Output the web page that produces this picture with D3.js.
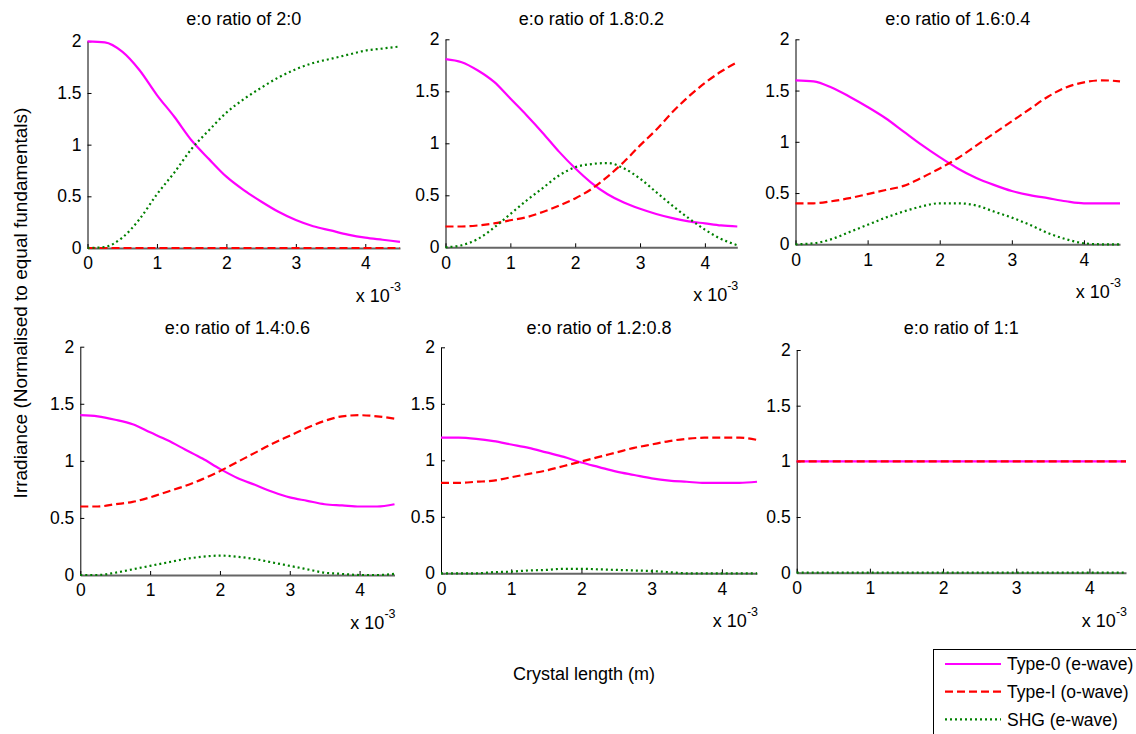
<!DOCTYPE html>
<html>
<head>
<meta charset="utf-8">
<script src="https://cdn.jsdelivr.net/npm/d3@7"></script>
<style>
  body { margin: 0; background: #fff; }
  text { font-family: "Liberation Sans", Arial, Helvetica, sans-serif; fill: #000; }
</style>
</head>
<body>
<script>
// crystal length samples (x 10^-3 m)
let lengths = [0, 0.25, 0.5, 0.75, 1, 1.25, 1.5, 1.75, 2, 2.25, 2.5, 2.75, 3, 3.25, 3.5, 3.75, 4, 4.25, 4.5]

let ratios = ['2:0', '1.8:0.2', '1.6:0.4', '1.4:0.6', '1.2:0.8', '1:1']

// Type-0 (e-wave), one row per panel
let type0 = [
    [2.00, 1.99, 1.90, 1.72, 1.48, 1.27, 1.04, 0.86, 0.69, 0.56, 0.45, 0.35, 0.27, 0.21, 0.17, 0.13, 0.10, 0.08, 0.06],
    [1.81, 1.78, 1.70, 1.59, 1.43, 1.27, 1.10, 0.92, 0.76, 0.62, 0.51, 0.43, 0.37, 0.32, 0.28, 0.25, 0.23, 0.21, 0.20],
    [1.60, 1.59, 1.53, 1.44, 1.34, 1.23, 1.10, 0.97, 0.85, 0.74, 0.65, 0.58, 0.52, 0.48, 0.45, 0.42, 0.40, 0.40, 0.40],
    [1.40, 1.39, 1.36, 1.32, 1.25, 1.18, 1.10, 1.02, 0.93, 0.85, 0.79, 0.73, 0.68, 0.65, 0.62, 0.61, 0.60, 0.60, 0.62],
    [1.20, 1.20, 1.19, 1.17, 1.14, 1.11, 1.07, 1.03, 0.98, 0.94, 0.90, 0.87, 0.84, 0.82, 0.81, 0.80, 0.80, 0.80, 0.81],
    [1, 1, 1, 1, 1, 1, 1, 1, 1, 1, 1, 1, 1, 1, 1, 1, 1, 1, 1]
]

// Type-I (o-wave)
let type1 = [
    [0, 0, 0, 0, 0, 0, 0, 0, 0, 0, 0, 0, 0, 0, 0, 0, 0, 0, 0],
    [0.20, 0.20, 0.21, 0.23, 0.26, 0.29, 0.34, 0.40, 0.47, 0.56, 0.68, 0.82, 0.98, 1.13, 1.30, 1.45, 1.58, 1.69, 1.78],
    [0.40, 0.40, 0.42, 0.45, 0.49, 0.53, 0.57, 0.65, 0.74, 0.84, 0.96, 1.08, 1.20, 1.32, 1.44, 1.53, 1.58, 1.60, 1.59],
    [0.60, 0.60, 0.62, 0.64, 0.68, 0.73, 0.78, 0.84, 0.91, 0.99, 1.07, 1.15, 1.22, 1.29, 1.35, 1.39, 1.40, 1.39, 1.37],
    [0.80, 0.80, 0.81, 0.82, 0.85, 0.88, 0.91, 0.95, 0.99, 1.03, 1.07, 1.11, 1.14, 1.17, 1.19, 1.20, 1.20, 1.20, 1.18],
    [1, 1, 1, 1, 1, 1, 1, 1, 1, 1, 1, 1, 1, 1, 1, 1, 1, 1, 1]
]

// SHG (e-wave)
let shg = [
    [0, 0.01, 0.10, 0.28, 0.52, 0.73, 0.96, 1.14, 1.31, 1.44, 1.55, 1.65, 1.73, 1.79, 1.83, 1.87, 1.91, 1.93, 1.95],
    [0, 0.02, 0.08, 0.19, 0.32, 0.45, 0.57, 0.69, 0.77, 0.80, 0.81, 0.76, 0.66, 0.53, 0.40, 0.28, 0.17, 0.08, 0.02],
    [0, 0.01, 0.05, 0.12, 0.19, 0.26, 0.32, 0.37, 0.40, 0.40, 0.38, 0.32, 0.26, 0.19, 0.11, 0.05, 0.01, 0, 0],
    [0, 0, 0.02, 0.05, 0.08, 0.11, 0.14, 0.16, 0.17, 0.16, 0.14, 0.11, 0.08, 0.05, 0.02, 0.01, 0, 0, 0.01],
    [0, 0, 0, 0.01, 0.015, 0.025, 0.03, 0.04, 0.04, 0.035, 0.03, 0.025, 0.02, 0.01, 0, 0, 0, 0, 0],
    [0, 0, 0, 0, 0, 0, 0, 0, 0, 0, 0, 0, 0, 0, 0, 0, 0, 0, 0]
]

let xTicks = [0, 1, 2, 3, 4]
let yTicks = [0, 0.5, 1, 1.5, 2]
let legendLabels = ['Type-0 (e-wave)', 'Type-I (o-wave)', 'SHG (e-wave)']

// panel boxes in pixels
let panels = [
    { l: 87.5, r: 400, t: 41.3, b: 248, ty: 25 },
    { l: 445.5, r: 737.3, t: 39.3, b: 247.3, ty: 25 },
    { l: 795.5, r: 1120, t: 39.3, b: 244.3, ty: 25 },
    { l: 80.3, r: 394.5, t: 346.7, b: 575, ty: 334 },
    { l: 441, r: 757, t: 347.3, b: 573.3, ty: 334 },
    { l: 796.7, r: 1126, t: 350, b: 572.7, ty: 334 }
]

let styles = [
    { color: '#ff00ff', dash: null },
    { color: '#ff0000', dash: '8,4' },
    { color: '#008000', dash: '2,3' }
]

let svg = d3.select('body').append('svg')
    .attr('width', 1136)
    .attr('height', 734)

svg.append('rect').attr('width', 1136).attr('height', 734).attr('fill', '#fff')

panels.forEach((p, i) => {
    let x = d3.scaleLinear().domain([0, 4.5]).range([p.l, p.r])
    let y = d3.scaleLinear().domain([0, 2]).range([p.b, p.t])
    let g = svg.append('g')

    // axes first, data goes on top
    let xAxis = g.append('g')
        .attr('transform', `translate(0,${p.b})`)
        .call(d3.axisBottom(x).tickValues(xTicks).tickSize(-4).tickSizeOuter(0).tickPadding(9).tickFormat(d3.format('')))
    xAxis.select('.domain').attr('stroke', '#666').attr('stroke-width', 2)
    xAxis.selectAll('.tick line').attr('stroke', '#000')
    xAxis.selectAll('text').style('font-size', '17.5px').attr('fill', '#000')

    let yAxis = g.append('g')
        .attr('transform', `translate(${p.l},0)`)
        .call(d3.axisLeft(y).tickValues(yTicks).tickSize(-4).tickSizeOuter(0).tickPadding(6).tickFormat(d3.format('')))
    yAxis.select('.domain').attr('stroke', '#000').attr('stroke-width', 1)
    yAxis.selectAll('text').style('font-size', '17.5px').attr('fill', '#000')
    xAxis.raise()

    g.append('text')
        .attr('x', (p.l + p.r) / 2)
        .attr('y', p.ty)
        .attr('text-anchor', 'middle')
        .style('font-size', '18px')
        .text('e:o ratio of ' + ratios[i])

    let mult = g.append('text')
        .attr('x', p.r + 1)
        .attr('y', p.b + 54)
        .attr('text-anchor', 'end')
        .style('font-size', '18px')
    mult.append('tspan').text('x 10')
    mult.append('tspan').attr('dy', -11).style('font-size', '12.5px').text('-3')

    let line = d3.line()
        .x((d, j) => x(lengths[j]))
        .y(d => y(d))
        .curve(d3.curveMonotoneX)

    ;[type0[i], type1[i], shg[i]].forEach((series, k) => {
        g.append('path')
            .datum(series)
            .attr('d', line)
            .attr('fill', 'none')
            .attr('stroke', styles[k].color)
            .attr('stroke-width', 2.2)
            .attr('stroke-dasharray', styles[k].dash)
    })
})

// shared labels
svg.append('text')
    .attr('transform', 'translate(27,303) rotate(-90)')
    .attr('text-anchor', 'middle')
    .style('font-size', '19px')
    .text('Irradiance (Normalised to equal fundamentals)')

svg.append('text')
    .attr('x', 584)
    .attr('y', 680)
    .attr('text-anchor', 'middle')
    .style('font-size', '18px')
    .text('Crystal length (m)')

// legend
let legend = svg.append('g')
legend.append('rect')
    .attr('x', 933.5).attr('y', 649.5)
    .attr('width', 210).attr('height', 100)
    .attr('fill', '#fff').attr('stroke', '#000').attr('stroke-width', 1)

legendLabels.forEach((lab, k) => {
    let cy = 664 + k * 27.7
    legend.append('line')
        .attr('x1', 945).attr('x2', 1001)
        .attr('y1', cy).attr('y2', cy)
        .attr('stroke', styles[k].color)
        .attr('stroke-width', 2.2)
        .attr('stroke-dasharray', styles[k].dash)
    legend.append('text')
        .attr('x', 1007)
        .attr('y', cy)
        .attr('dy', '0.35em')
        .style('font-size', '17.5px')
        .text(lab)
})
</script>
</body>
</html>
